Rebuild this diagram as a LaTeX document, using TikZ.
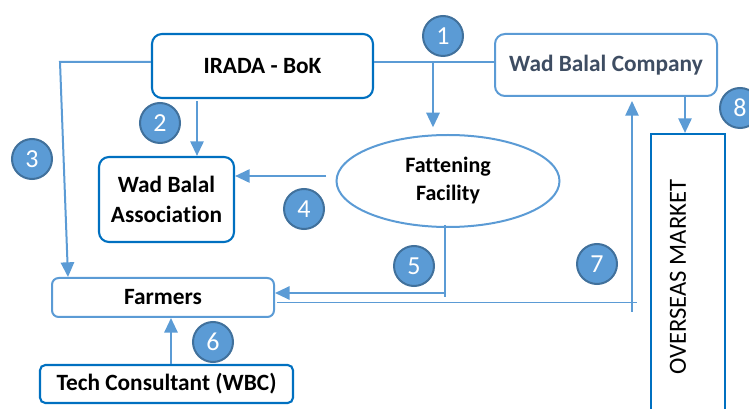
\documentclass[tikz,border=0pt]{standalone}
\usepackage{fontspec}
\setmainfont{Carlito}[Ligatures=NoCommon,RawFeature={-liga;-clig;-dlig;-calt}]
\usetikzlibrary{arrows.meta,calc,shapes.geometric}
\definecolor{dkb}{HTML}{0070C0}
\definecolor{ltb}{HTML}{5B9BD5}
\definecolor{cbd}{HTML}{41719C}
\definecolor{gtx}{HTML}{3E4D62}
\tikzset{
 dbox/.style={draw=dkb, line width=1.6pt, rounded corners=7.5pt, align=center, inner sep=0pt,
   font=\fontsize{17.5}{22.5}\selectfont\bfseries},
 lbox/.style={dbox, draw=ltb, line width=1.5pt},
 conn/.style={draw=ltb, line width=1.5pt},
 arr/.style={conn, -{Triangle[length=11pt,width=10pt]}},
 thinl/.style={draw=ltb, line width=1pt},
 numc/.style={circle, fill=ltb, draw=cbd, line width=1.5pt, text=white, minimum size=30pt,
   inner sep=0pt, font=\fontsize{19.5}{19.5}\selectfont},
}
\begin{document}
\begin{tikzpicture}[x=0.75pt,y=-0.75pt]
\useasboundingbox (0,0) rectangle (749,409);
\clip (0,0) rectangle (749,409);
% boxes
\node[dbox, minimum width=165.75pt, minimum height=48pt] (irada) at (262.5,66) {IRADA - BoK};
\node[lbox, minimum width=166.5pt, minimum height=46.5pt, text=gtx] (wbc) at (606,65) {Wad Balal Company};
\node[ellipse, draw=ltb, line width=1.5pt, minimum width=167.25pt, minimum height=69pt, inner sep=0pt,
  align=center, font=\fontsize{16.5}{21}\selectfont\bfseries] (fat) at (448,181) {Fattening\\Facility};
\node[dbox, minimum width=101.25pt, minimum height=63.75pt] (assoc) at (166.5,199.5) {Wad Balal\\Associa\kern0pt tion};
\node[lbox, rounded corners=5pt, minimum width=166.5pt, minimum height=29.25pt] (farm) at (163,297.5) {Farmers};
\node[dbox, rounded corners=4pt, minimum width=189.75pt, minimum height=28.5pt] (tech) at (166.5,384) {Tech Consultant (WBC)};
\node[draw=dkb, line width=1.6pt, minimum width=55.5pt, minimum height=222pt, inner sep=0pt] (over) at (688,282) {};
\node[rotate=90, font=\fontsize{18.5}{20}\selectfont, inner sep=0pt] (overtxt) at (678,277) {OVERSEAS MARKET};
% connectors
\draw[conn] ([yshift=3pt]irada.east) coordinate (ie) -- (ie -| wbc.west);
\coordinate (j1) at (433,62);
\draw[arr, shorten >=5pt] (j1) -- (j1 |- fat.north);
\coordinate (c3) at (60,62);
\draw[arr] ([yshift=3pt]irada.west) -- (c3) -- (68,0 |- farm.north);
\draw[arr, shorten <=1.5pt] (197,0 |- irada.south) -- (197,0 |- assoc.north);
\draw[arr] ([shift={(-7pt,3.75pt)}]fat.west) coordinate (f4) -- (f4 -| assoc.east);
\coordinate (c5a) at (445,225);
\coordinate (c5b) at (445,297);
\draw[thinl] (c5a) -- (c5b);
\draw[arr] (445,293) coordinate (c5) -- (c5 -| farm.east);
\draw[thinl] ([shift={(1.5pt,-4pt)}]farm.east) coordinate (f7) -- (637,0 |- f7);
\draw[thinl, line width=1.1pt, -{Triangle[length=11pt,width=10pt]}, shorten >=3pt] (632,312) coordinate (c7) -- (c7 |- wbc.south);
\draw[arr] (685,0 |- wbc.south) -- (685,0 |- over.north);
\draw[arr] (171,0 |- tech.north) -- (171,0 |- farm.south);
% numbers
\node[numc] (n1) at (443,36) {1};
\node[numc] (n2) at (160,123) {2};
\node[numc] (n3) at (32,159) {3};
\node[numc] (n4) at (304,209) {4};
\node[numc] (n5) at (414,266) {5};
\node[numc] (n6) at (213,342) {6};
\node[numc] (n7) at (597,264) {7};
\node[numc] (n8) at (740,108) {8};
\end{tikzpicture}
\end{document}
